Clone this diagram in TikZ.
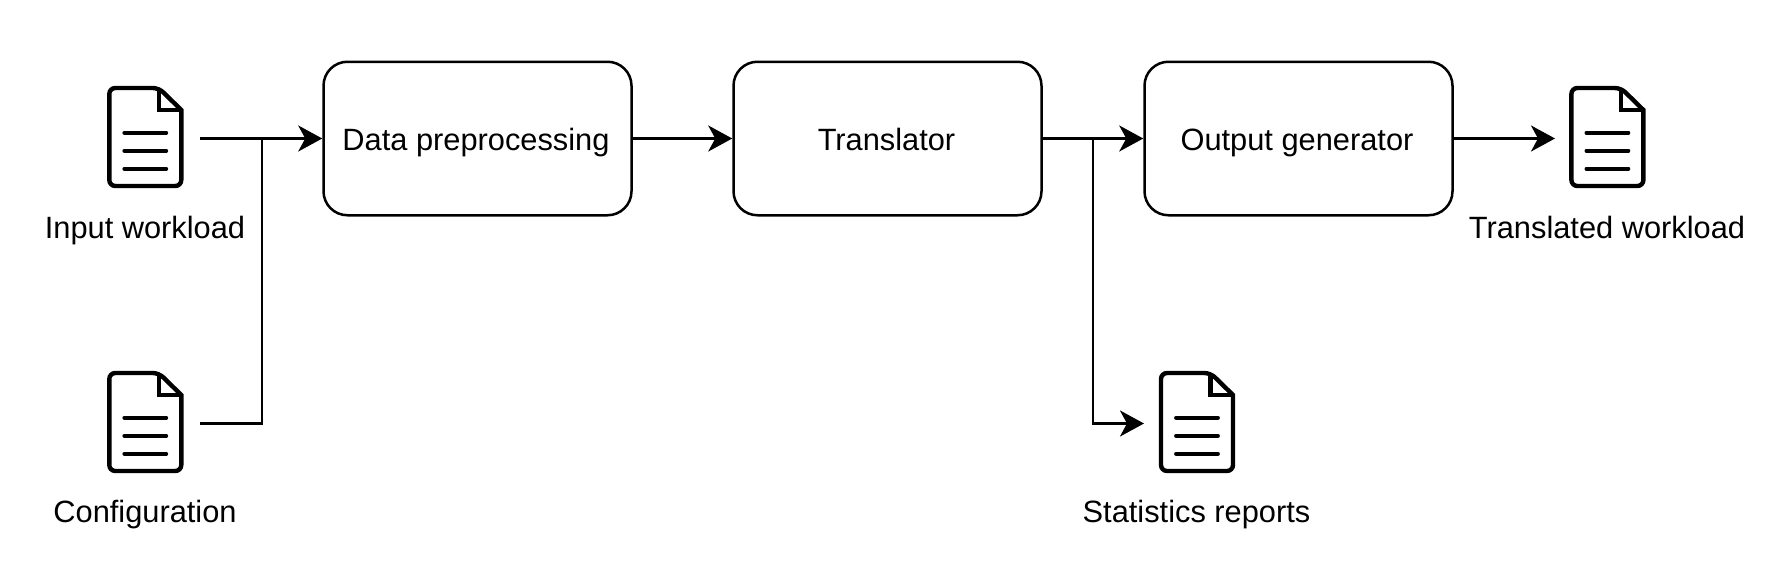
\documentclass[tikz,border=0pt]{standalone}
\usepackage{fontspec}
\setmainfont{Liberation Sans}
\usetikzlibrary{arrows.meta}
\tikzset{
  x=1pt,y=-1pt,
  procbox/.style={draw=black,line width=2.5pt,rounded corners=24pt,minimum width=308pt,minimum height=153.5pt,inner sep=0pt,text height=24pt,text depth=0pt,font=\fontsize{30.8}{36}\selectfont},
  lbl/.style={inner sep=0pt,anchor=base,font=\fontsize{30.8}{36}\selectfont},
  conn/.style={draw=black,line width=2.6pt},
  arr/.style={conn,-{Stealth[length=24pt,width=26pt,inset=7pt]}},
  docicon/.pic={
    \draw[black,line width=4.4pt,line join=miter,rounded corners=6pt]
      (36,-27) -- (36,49) -- (-36,49) -- (-36,-49) -- (13.5,-49) [sharp corners] -- cycle;
    \draw[black,line width=4.4pt,line join=miter] (13.5,-49) -- (13.5,-27) -- (36,-27);
    \draw[black,line width=3.8pt,line cap=round] (-21,-4.3) -- (21,-4.3) (-21,13.7) -- (21,13.7) (-21,31.7) -- (21,31.7);
  }
}
\begin{document}
\begin{tikzpicture}
\useasboundingbox (0,0) rectangle (1785,570);
\node[procbox] (data) at (477.5,138.5) {Data preprocessing\kern3pt};
\node[procbox] (trans) at (887.5,138.5) {Translator\kern2pt};
\node[procbox] (outgen) at (1298.5,138.5) {Output generator\kern3pt};
\pic at (145.3,137) {docicon};
\pic at (145.3,422) {docicon};
\pic at (1197,422) {docicon};
\pic at (1607.4,137) {docicon};
\node[lbl] (linput) at (145,238) {Input workload};
\node[lbl] (lconfig) at (145,522.4) {Configuration};
\node[lbl] (lstats) at (1196.5,522.4) {Statistics reports};
\node[lbl] (ltrans) at (1607,238) {Translated workload};
\coordinate (inout) at (200,138.5);
\coordinate (cfgout) at (200,423.5);
\coordinate (jin) at (262,138.5);
\coordinate (jout) at (1093,138.5);
\coordinate (statsin) at (1144,423.5);
\coordinate (transin) at (1555,138.5);
\draw[arr] (inout) -- (data.west |- inout);
\draw[conn] (cfgout) -| (jin);
\draw[arr] (data.east |- inout) -- (trans.west |- inout);
\draw[arr] (trans.east |- inout) -- (outgen.west |- inout);
\draw[arr] (jout) |- (statsin);
\draw[arr] (outgen.east |- inout) -- (transin);
\end{tikzpicture}
\end{document}
